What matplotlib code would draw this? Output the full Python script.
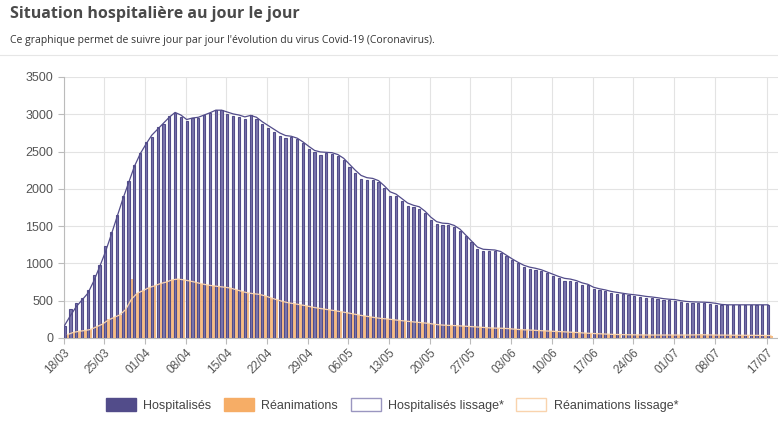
import matplotlib.pyplot as plt
from matplotlib.patches import Patch

# days since 18/03 (0 .. 121 = 17/07)
hospitalises = [165, 385, 465, 530, 640, 850, 985, 1230, 1415, 1655,
                1900, 2110, 2325, 2480, 2630, 2700, 2835, 2865, 2980, 3020,
                2960, 2905, 2955, 2955, 2985, 3020, 3055, 3055, 3005, 2980,
                2965, 2940, 2985, 2940, 2870, 2815, 2760, 2710, 2685, 2695,
                2665, 2610, 2535, 2490, 2460, 2475, 2472, 2436, 2388, 2295,
                2210, 2132, 2116, 2116, 2087, 2009, 1910, 1910, 1837, 1768,
                1752, 1734, 1671, 1578, 1533, 1520, 1515, 1490, 1430, 1365,
                1290, 1200, 1165, 1165, 1160, 1140, 1100, 1040, 1000, 950,
                925, 912, 895, 865, 835, 810, 770, 765, 745, 710,
                705, 655, 640, 626, 605, 595, 586, 572, 565, 555,
                541, 534, 525, 512, 503, 500, 478, 474, 470, 470,
                468, 462, 447, 438, 438, 438, 438, 438, 438, 438,
                438, 438]

reanimations = [40, 80, 90, 100, 115, 160, 185, 250, 280, 310,
                390, 785, 600, 635, 675, 700, 730, 745, 780, 790,
                780, 765, 748, 725, 712, 700, 690, 682, 670, 648,
                625, 603, 594, 589, 567, 536, 513, 491, 469, 460,
                446, 433, 415, 400, 388, 378, 366, 353, 340, 325,
                308, 295, 285, 270, 262, 255, 245, 237, 228, 219,
                212, 205, 197, 185, 174, 170, 168, 165, 160, 155,
                152, 145, 138, 132, 130, 135, 125, 118, 112, 108,
                107, 100, 96, 92, 88, 85, 80, 76, 72, 65,
                63, 58, 55, 50, 48, 45, 44, 42, 42, 40,
                40, 40, 38, 40, 42, 38, 36, 38, 45, 50,
                40, 38, 36, 40, 38, 35, 38, 36, 35, 38,
                34, 32]

hosp_lissage = [170, 300, 420, 510, 600, 760, 950, 1150, 1380, 1620,
                1860, 2080, 2300, 2470, 2600, 2720, 2800, 2880, 2960, 3025,
                2990, 2930, 2950, 2960, 2990, 3020, 3055, 3055, 3030, 3005,
                2990, 2965, 2985, 2960, 2900, 2850, 2800, 2750, 2715, 2705,
                2680, 2630, 2570, 2515, 2495, 2490, 2485, 2460, 2410, 2330,
                2250, 2180, 2150, 2140, 2110, 2040, 1960, 1930, 1870, 1810,
                1780, 1760, 1700, 1620, 1560, 1540, 1535, 1510, 1460, 1380,
                1300, 1220, 1190, 1185, 1180, 1160, 1110, 1060, 1015, 975,
                950, 935, 915, 885, 855, 825, 800, 790, 770, 740,
                720, 680, 660, 645, 625, 612, 600, 588, 580, 570,
                558, 550, 540, 528, 520, 515, 500, 490, 485, 482,
                480, 475, 465, 450, 445, 445, 445, 445, 445, 445,
                445, 445]

rea_lissage = [45, 75, 90, 100, 115, 150, 185, 240, 275, 310,
               380, 520, 600, 635, 675, 700, 730, 750, 780, 790,
               780, 765, 748, 728, 712, 700, 690, 682, 670, 648,
               625, 605, 594, 585, 565, 538, 513, 491, 472, 460,
               446, 433, 416, 402, 390, 378, 366, 353, 340, 325,
               310, 296, 285, 272, 262, 255, 246, 237, 228, 220,
               212, 205, 197, 186, 176, 171, 168, 165, 160, 155,
               150, 145, 139, 134, 132, 130, 125, 118, 112, 108,
               105, 100, 96, 92, 88, 85, 80, 76, 72, 66,
               62, 58, 55, 51, 48, 46, 44, 43, 42, 41,
               40, 40, 40, 40, 40, 40, 40, 40, 42, 44,
               42, 40, 39, 39, 38, 37, 37, 36, 36, 35,
               34, 33]

tick_days = [0, 7, 14, 21, 28, 35, 42, 49, 56, 63, 70, 77, 84, 91, 98, 105, 112, 121]
tick_labels = ['18/03', '25/03', '01/04', '08/04', '15/04', '22/04', '29/04', '06/05',
               '13/05', '20/05', '27/05', '03/06', '10/06', '17/06', '24/06', '01/07',
               '08/07', '17/07']

purple = '#524c8a'
purple_fill = '#7a75ab'
orange = '#f6ad66'
orange_light = '#f9d3ad'

plt.rcParams['font.family'] = ['Liberation Sans', 'DejaVu Sans']

fig = plt.figure(figsize=(7.78, 4.28), dpi=100)
W, H = 778, 428

fig.text(10 / W, 1 - 14 / H, 'Situation hospitalière au jour le jour', fontsize=11.5,
         fontweight='bold', color='#4a4a4a', va='center', family='Open Sans')
fig.text(10 / W, 1 - 40 / H,
         "Ce graphique permet de suivre jour par jour l'évolution du virus Covid-19 (Coronavirus).",
         fontsize=7.5, color='#333333', va='center', family='Open Sans')
fig.add_artist(plt.Line2D([0, 1], [1 - 55 / H, 1 - 55 / H], color='#e6e6e6', lw=0.8))

ax = fig.add_axes([63.5 / W, (H - 338) / H, 714.5 / W, (338 - 77) / H])

days = list(range(len(hospitalises)))
bw_h = 0.38
bw_r = 0.6
ax.bar([d + bw_h for d in days], reanimations, width=bw_r, align='edge',
       color=orange, alpha=0.8, linewidth=0, zorder=2)
ax.bar(days, hospitalises, width=bw_h, align='edge',
       color=purple_fill, edgecolor=purple, linewidth=0.8, zorder=3)
ax.plot([d + bw_h / 2 for d in days], hosp_lissage, color=purple, lw=0.9, zorder=4)
ax.plot([d + bw_h + bw_r / 2 for d in days], rea_lissage, color=orange_light, lw=0.9, zorder=4)

ax.set_xlim(0, 122.9)
ax.set_ylim(0, 3500)
ax.set_yticks(range(0, 3501, 500))
ax.set_xticks(tick_days)
ax.set_xticklabels(tick_labels, rotation=45, ha='right', rotation_mode='anchor')
ax.tick_params(axis='both', colors='#555555', labelsize=9, length=4, width=0.8)
ax.tick_params(axis='x', labelsize=8.5, pad=2)
for lab in ax.get_xticklabels() + ax.get_yticklabels():
    lab.set_color('#555555')
ax.grid(True, color='#e3e3e3', lw=0.8, zorder=0)
ax.set_axisbelow(True)
for side in ['top', 'right']:
    ax.spines[side].set_visible(False)
ax.spines['left'].set_color('#bbbbbb')
ax.spines['bottom'].set_color('#bbbbbb')
ax.tick_params(axis='both', color='#bbbbbb')

handles = [Patch(facecolor=purple, edgecolor=purple),
           Patch(facecolor=orange, edgecolor=orange),
           Patch(facecolor='white', edgecolor='#9a96c0'),
           Patch(facecolor='white', edgecolor=orange_light)]
labels = ['Hospitalisés', 'Réanimations', 'Hospitalisés lissage*', 'Réanimations lissage*']
fig.legend(handles, labels, loc='center', bbox_to_anchor=(392 / W, 1 - 405 / H), ncol=4,
           frameon=False, fontsize=9, handlelength=2.4, handleheight=1.2,
           columnspacing=1.0, handletextpad=0.6, labelcolor='#444444')

fig.savefig('out.png', dpi=100)
